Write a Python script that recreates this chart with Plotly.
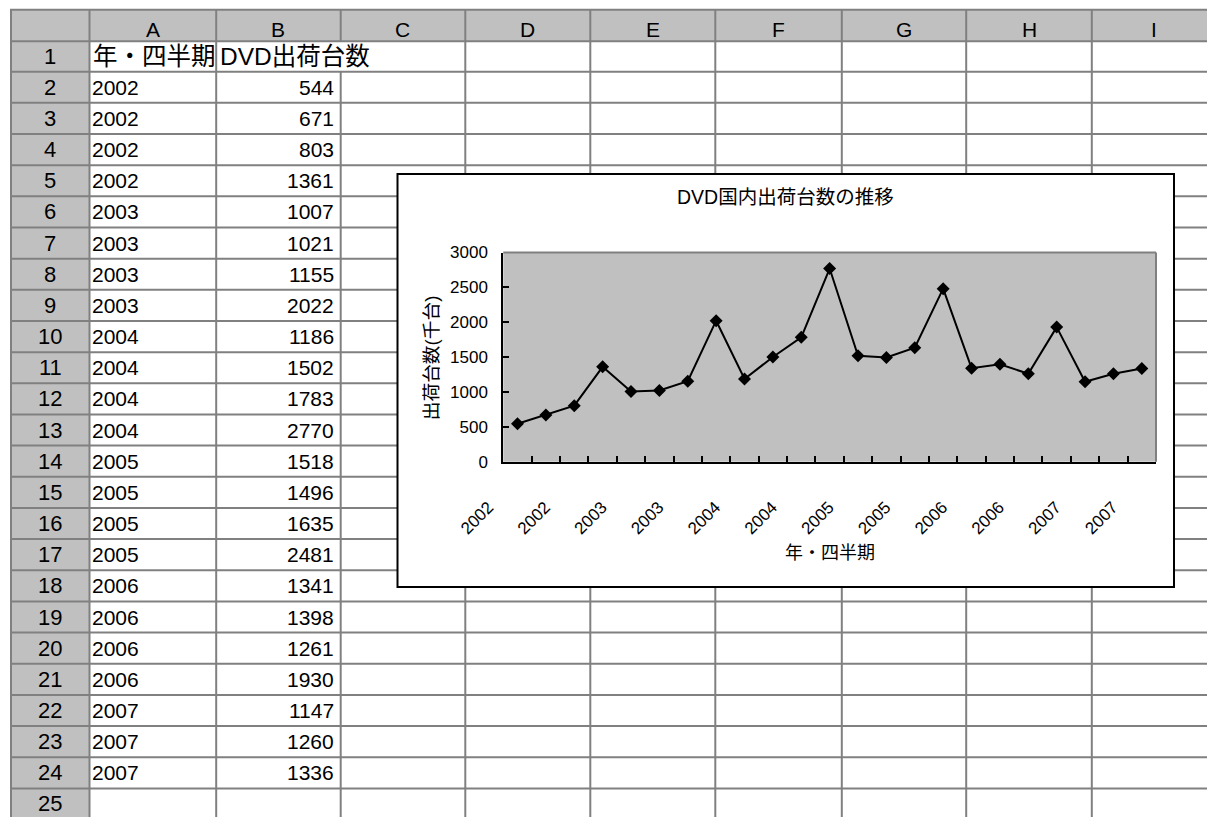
import plotly.graph_objects as go

# ---------------- data ----------------
periods = ["2002", "2002", "2002", "2002", "2003", "2003", "2003", "2003",
           "2004", "2004", "2004", "2004", "2005", "2005", "2005", "2005",
           "2006", "2006", "2006", "2006", "2007", "2007", "2007"]
shipments = [544, 671, 803, 1361, 1007, 1021, 1155, 2022, 1186, 1502, 1783, 2770,
             1518, 1496, 1635, 2481, 1341, 1398, 1261, 1930, 1147, 1260, 1336]
col_letters = ["A", "B", "C", "D", "E", "F", "G", "H", "I"]
header_a = "年・四半期"
header_b = "DVD出荷台数"
chart_title = "DVD国内出荷台数の推移"
y_title = "出荷台数(千台)"
x_title = "年・四半期"
y_ticks = [0, 500, 1000, 1500, 2000, 2500, 3000]
n_rows = 25

# ---------------- layout geometry (pixels) ----------------
W, H = 1207, 817
FONT = "Liberation Sans, Arial, Noto Sans CJK JP, sans-serif"
GRID = "#808080"
HDR = "#c0c0c0"
col_bounds = [11, 89.5, 216.2, 340.7, 465.3, 590.3, 715.3, 841.8, 966.2, 1091.8, 1216.5]
row_bounds = [9.7, 41.2] + [71.7 + 31.16 * i for i in range(n_rows)]
CB = (397.5, 174, 1174, 587)          # chart box left, top, right, bottom
PA = (503.3, 252.5, 1156, 461.7)      # plot area left, top, right, bottom


def fx(x):
    return x / W


def fy(y):
    return 1 - y / H


shapes = []
# header fills
shapes.append(dict(type="rect", xref="paper", yref="paper", layer="below",
                   x0=fx(col_bounds[0]), x1=fx(W), y0=fy(row_bounds[0]), y1=fy(row_bounds[1]),
                   fillcolor=HDR, line=dict(width=0)))
shapes.append(dict(type="rect", xref="paper", yref="paper", layer="below",
                   x0=fx(col_bounds[0]), x1=fx(col_bounds[1]), y0=fy(row_bounds[1]), y1=fy(H),
                   fillcolor=HDR, line=dict(width=0)))


def hline(y, x0, x1):
    shapes.append(dict(type="line", xref="paper", yref="paper", layer="below",
                       x0=fx(x0), x1=fx(x1), y0=fy(y), y1=fy(y),
                       line=dict(color=GRID, width=2)))


def vline(x, y0, y1):
    shapes.append(dict(type="line", xref="paper", yref="paper", layer="below",
                       x0=fx(x), x1=fx(x), y0=fy(y0), y1=fy(y1),
                       line=dict(color=GRID, width=2)))


# horizontal grid lines (interrupted behind the chart box)
for y in row_bounds:
    if CB[1] < y < CB[3]:
        hline(y, col_bounds[0] - 1, CB[0])
        hline(y, CB[2], W)
    else:
        hline(y, col_bounds[0] - 1, W)

# vertical grid lines
for i, x in enumerate(col_bounds[:-1]):
    segs = [(row_bounds[0], H)]
    if CB[0] < x < CB[2]:
        segs = [(row_bounds[0], CB[1]), (CB[3], H)]
    if i == 3:  # B1 text overflows into C1
        segs = [(row_bounds[0], row_bounds[1]), (row_bounds[2], H)]
    for a, b in segs:
        vline(x, a, b)

# chart box border
shapes.append(dict(type="rect", xref="paper", yref="paper", layer="below",
                   x0=fx(CB[0]), x1=fx(CB[2]), y0=fy(CB[3]), y1=fy(CB[1]),
                   fillcolor="rgba(0,0,0,0)", line=dict(color="black", width=2)))
# plot area top / right borders (gray)
shapes.append(dict(type="line", xref="paper", yref="paper", layer="below",
                   x0=fx(PA[0]), x1=fx(PA[2]), y0=fy(PA[1]), y1=fy(PA[1]),
                   line=dict(color=GRID, width=2)))
shapes.append(dict(type="line", xref="paper", yref="paper", layer="below",
                   x0=fx(PA[2]), x1=fx(PA[2]), y0=fy(PA[1]), y1=fy(PA[3]),
                   line=dict(color=GRID, width=2)))

annotations = []


def text(t, x, y, size, xanchor="center", angle=0):
    annotations.append(dict(text=t, x=fx(x), y=fy(y), xref="paper", yref="paper",
                            xanchor=xanchor, yanchor="middle", showarrow=False,
                            textangle=angle, font=dict(family=FONT, size=size, color="black")))


# column letters
for i, L in enumerate(col_letters):
    text(L, (col_bounds[i + 1] + col_bounds[i + 2]) / 2, 29.5, 21)
# row numbers
for n in range(1, n_rows + 1):
    text(str(n), (col_bounds[0] + col_bounds[1]) / 2, (row_bounds[n] + row_bounds[n + 1]) / 2, 22)
# header cells
r1 = (row_bounds[1] + row_bounds[2]) / 2
text(header_a, col_bounds[1] + 1.5, r1, 24.5, "left")
text(header_b, col_bounds[2] + 2, r1, 24.5, "left")
# data cells
for k, (p, v) in enumerate(zip(periods, shipments)):
    n = k + 2
    yc = (row_bounds[n] + row_bounds[n + 1]) / 2
    text(p, col_bounds[1] + 0.5, yc, 21, "left")
    text(str(v), col_bounds[3] - 5, yc, 21, "right")

# chart texts
text(chart_title, (CB[0] + CB[2]) / 2, 196.7, 19.5)
text(y_title, 431.7, 357.5, 18.7, angle=-90)
text(x_title, (PA[0] + PA[2]) / 2, 553, 18)

x_idx = list(range(len(shipments)))

fig = go.Figure()
fig.add_trace(go.Scatter(
    x=x_idx, y=shipments, mode="lines+markers",
    line=dict(color="black", width=2),
    marker=dict(symbol="diamond", size=10, color="black"),
    showlegend=False, hoverinfo="skip"))

fig.update_layout(
    template="none",
    width=W, height=H, autosize=False,
    margin=dict(l=0, r=0, t=0, b=0, pad=0),
    paper_bgcolor="white", plot_bgcolor=HDR,
    shapes=shapes, annotations=annotations,
    font=dict(family=FONT, color="black"),
    xaxis=dict(
        automargin=False,
        domain=[fx(PA[0]), fx(PA[2])], range=[-0.5, len(shipments) - 0.5],
        tickmode="array", tickvals=x_idx[::2], ticktext=periods[::2],
        tickangle=-45, ticks="", showline=True, linecolor="black", linewidth=2,
        showgrid=False, zeroline=False, fixedrange=True,
        tickfont=dict(family=FONT, size=17, color="black"),
        ticklabelstandoff=27, ticklabelshift=-29,
        minor=dict(tickmode="array", tickvals=[k - 0.5 for k in range(1, len(shipments))],
                   ticks="inside", ticklen=6, tickwidth=1.5, tickcolor="black", showgrid=False),
    ),
    yaxis=dict(
        automargin=False,
        domain=[fy(PA[3]), fy(PA[1])], range=[0, 3000],
        tickmode="array", tickvals=y_ticks,
        ticks="inside", ticklen=6, tickwidth=1.5, tickcolor="black",
        showline=True, linecolor="black", linewidth=2,
        showgrid=False, zeroline=False, fixedrange=True,
        tickfont=dict(family=FONT, size=17, color="black"),
        ticklabelstandoff=10,
    ),
)

fig.write_html("out.html")
